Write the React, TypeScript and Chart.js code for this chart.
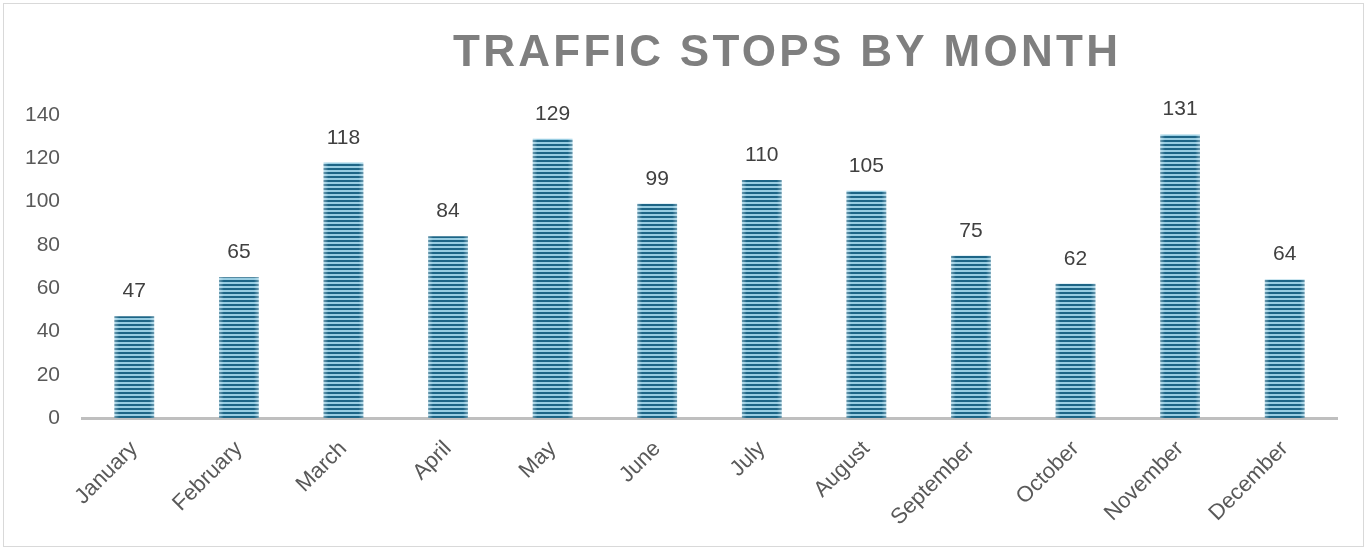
import React, { useEffect, useRef } from "react";
import { Chart, registerables } from "chart.js";

Chart.register(...registerables);

const months = [
  "January", "February", "March", "April", "May", "June",
  "July", "August", "September", "October", "November", "December",
];
const stops = [47, 65, 118, 84, 129, 99, 110, 105, 75, 62, 131, 64];
const yTicks = [0, 20, 40, 60, 80, 100, 120, 140];
const titleText = "TRAFFIC STOPS BY MONTH";

const FONT = "'Liberation Sans', Arial, sans-serif";

function makePattern(): CanvasPattern | string {
  const c = document.createElement("canvas");
  c.width = 1;
  c.height = 4;
  const g = c.getContext("2d");
  if (!g) return "#2a7396";
  g.fillStyle = "#1d6586";
  g.fillRect(0, 0, 1, 2);
  g.fillStyle = "#98cde2";
  g.fillRect(0, 2, 1, 2);
  const p = g.createPattern(c, "repeat");
  return p || "#2a7396";
}

const titlePlugin = {
  id: "customTitle",
  afterDraw(chart: any) {
    const ctx = chart.ctx;
    ctx.save();
    ctx.font = "bold 44px " + FONT;
    (ctx as any).letterSpacing = "3.3px";
    ctx.fillStyle = "#7f7f7f";
    ctx.textAlign = "left";
    ctx.textBaseline = "alphabetic";
    ctx.fillText(titleText, 453, 66);
    ctx.restore();
  },
};

const barDecorPlugin = {
  id: "barDecor",
  afterDatasetsDraw(chart: any) {
    const ctx = chart.ctx;
    const meta = chart.getDatasetMeta(0);
    const data = chart.data.datasets[0].data as number[];
    ctx.save();
    meta.data.forEach((el: any, i: number) => {
      const props = el.getProps(["x", "y", "base", "width"], true);
      const left = props.x - props.width / 2;
      const right = props.x + props.width / 2;
      const grad = ctx.createLinearGradient(left, 0, right, 0);
      grad.addColorStop(0, "rgba(255,255,255,0.35)");
      grad.addColorStop(0.12, "rgba(255,255,255,0.0)");
      grad.addColorStop(0.88, "rgba(255,255,255,0.0)");
      grad.addColorStop(1, "rgba(255,255,255,0.35)");
      ctx.fillStyle = grad;
      ctx.fillRect(left, props.y, props.width, props.base - props.y);
      ctx.fillStyle = "#404040";
      ctx.font = "21px " + FONT;
      ctx.textAlign = "center";
      ctx.textBaseline = "alphabetic";
      ctx.fillText(String(data[i]), props.x, props.y - 19);
    });
    ctx.restore();
  },
};

export default function App() {
  const ref = useRef<HTMLCanvasElement | null>(null);

  useEffect(() => {
    document.body.style.margin = "0";
    const canvas = ref.current;
    if (!canvas) return;
    const pattern = makePattern();
    const chart = new Chart(canvas, {
      type: "bar",
      data: {
        labels: months,
        datasets: [
          {
            data: stops,
            backgroundColor: pattern as any,
            borderWidth: 0,
            barPercentage: 0.38,
            categoryPercentage: 1,
          },
        ],
      },
      options: {
        animation: false,
        responsive: false,
        maintainAspectRatio: false,
        layout: { padding: { top: 115, right: 32, bottom: 0, left: 0 } },
        plugins: {
          legend: { display: false },
          title: { display: false },
          tooltip: { enabled: false },
        },
        scales: {
          x: {
            grid: { display: false, drawTicks: false },
            border: { display: true, color: "#bfbfbf", width: 3 },
            ticks: {
              color: "#595959",
              font: { size: 22, family: FONT },
              maxRotation: 45,
              minRotation: 45,
              padding: 18,
              autoSkip: false,
            },
            afterFit(scale: any) {
              scale.height = 132;
            },
          },
          y: {
            min: 0,
            max: 140,
            afterBuildTicks(scale: any) {
              scale.ticks = yTicks.map((v) => ({ value: v }));
            },
            grid: { display: false, drawTicks: false },
            border: { display: false },
            ticks: {
              color: "#595959",
              font: { size: 21, family: FONT },
              padding: 22,
            },
            afterFit(scale: any) {
              scale.width = 82;
            },
          },
        },
      },
      plugins: [titlePlugin, barDecorPlugin],
    });
    return () => chart.destroy();
  }, []);

  return (
    <div style={{ position: "relative", width: 1369, height: 550, background: "#ffffff" }}>
      <canvas ref={ref} width={1369} height={550} style={{ display: "block" }} />
      <div
        style={{
          position: "absolute",
          left: 3,
          top: 3,
          width: 1361,
          height: 544,
          border: "1px solid #d9d9d9",
          boxSizing: "border-box",
          pointerEvents: "none",
        }}
      />
    </div>
  );
}
